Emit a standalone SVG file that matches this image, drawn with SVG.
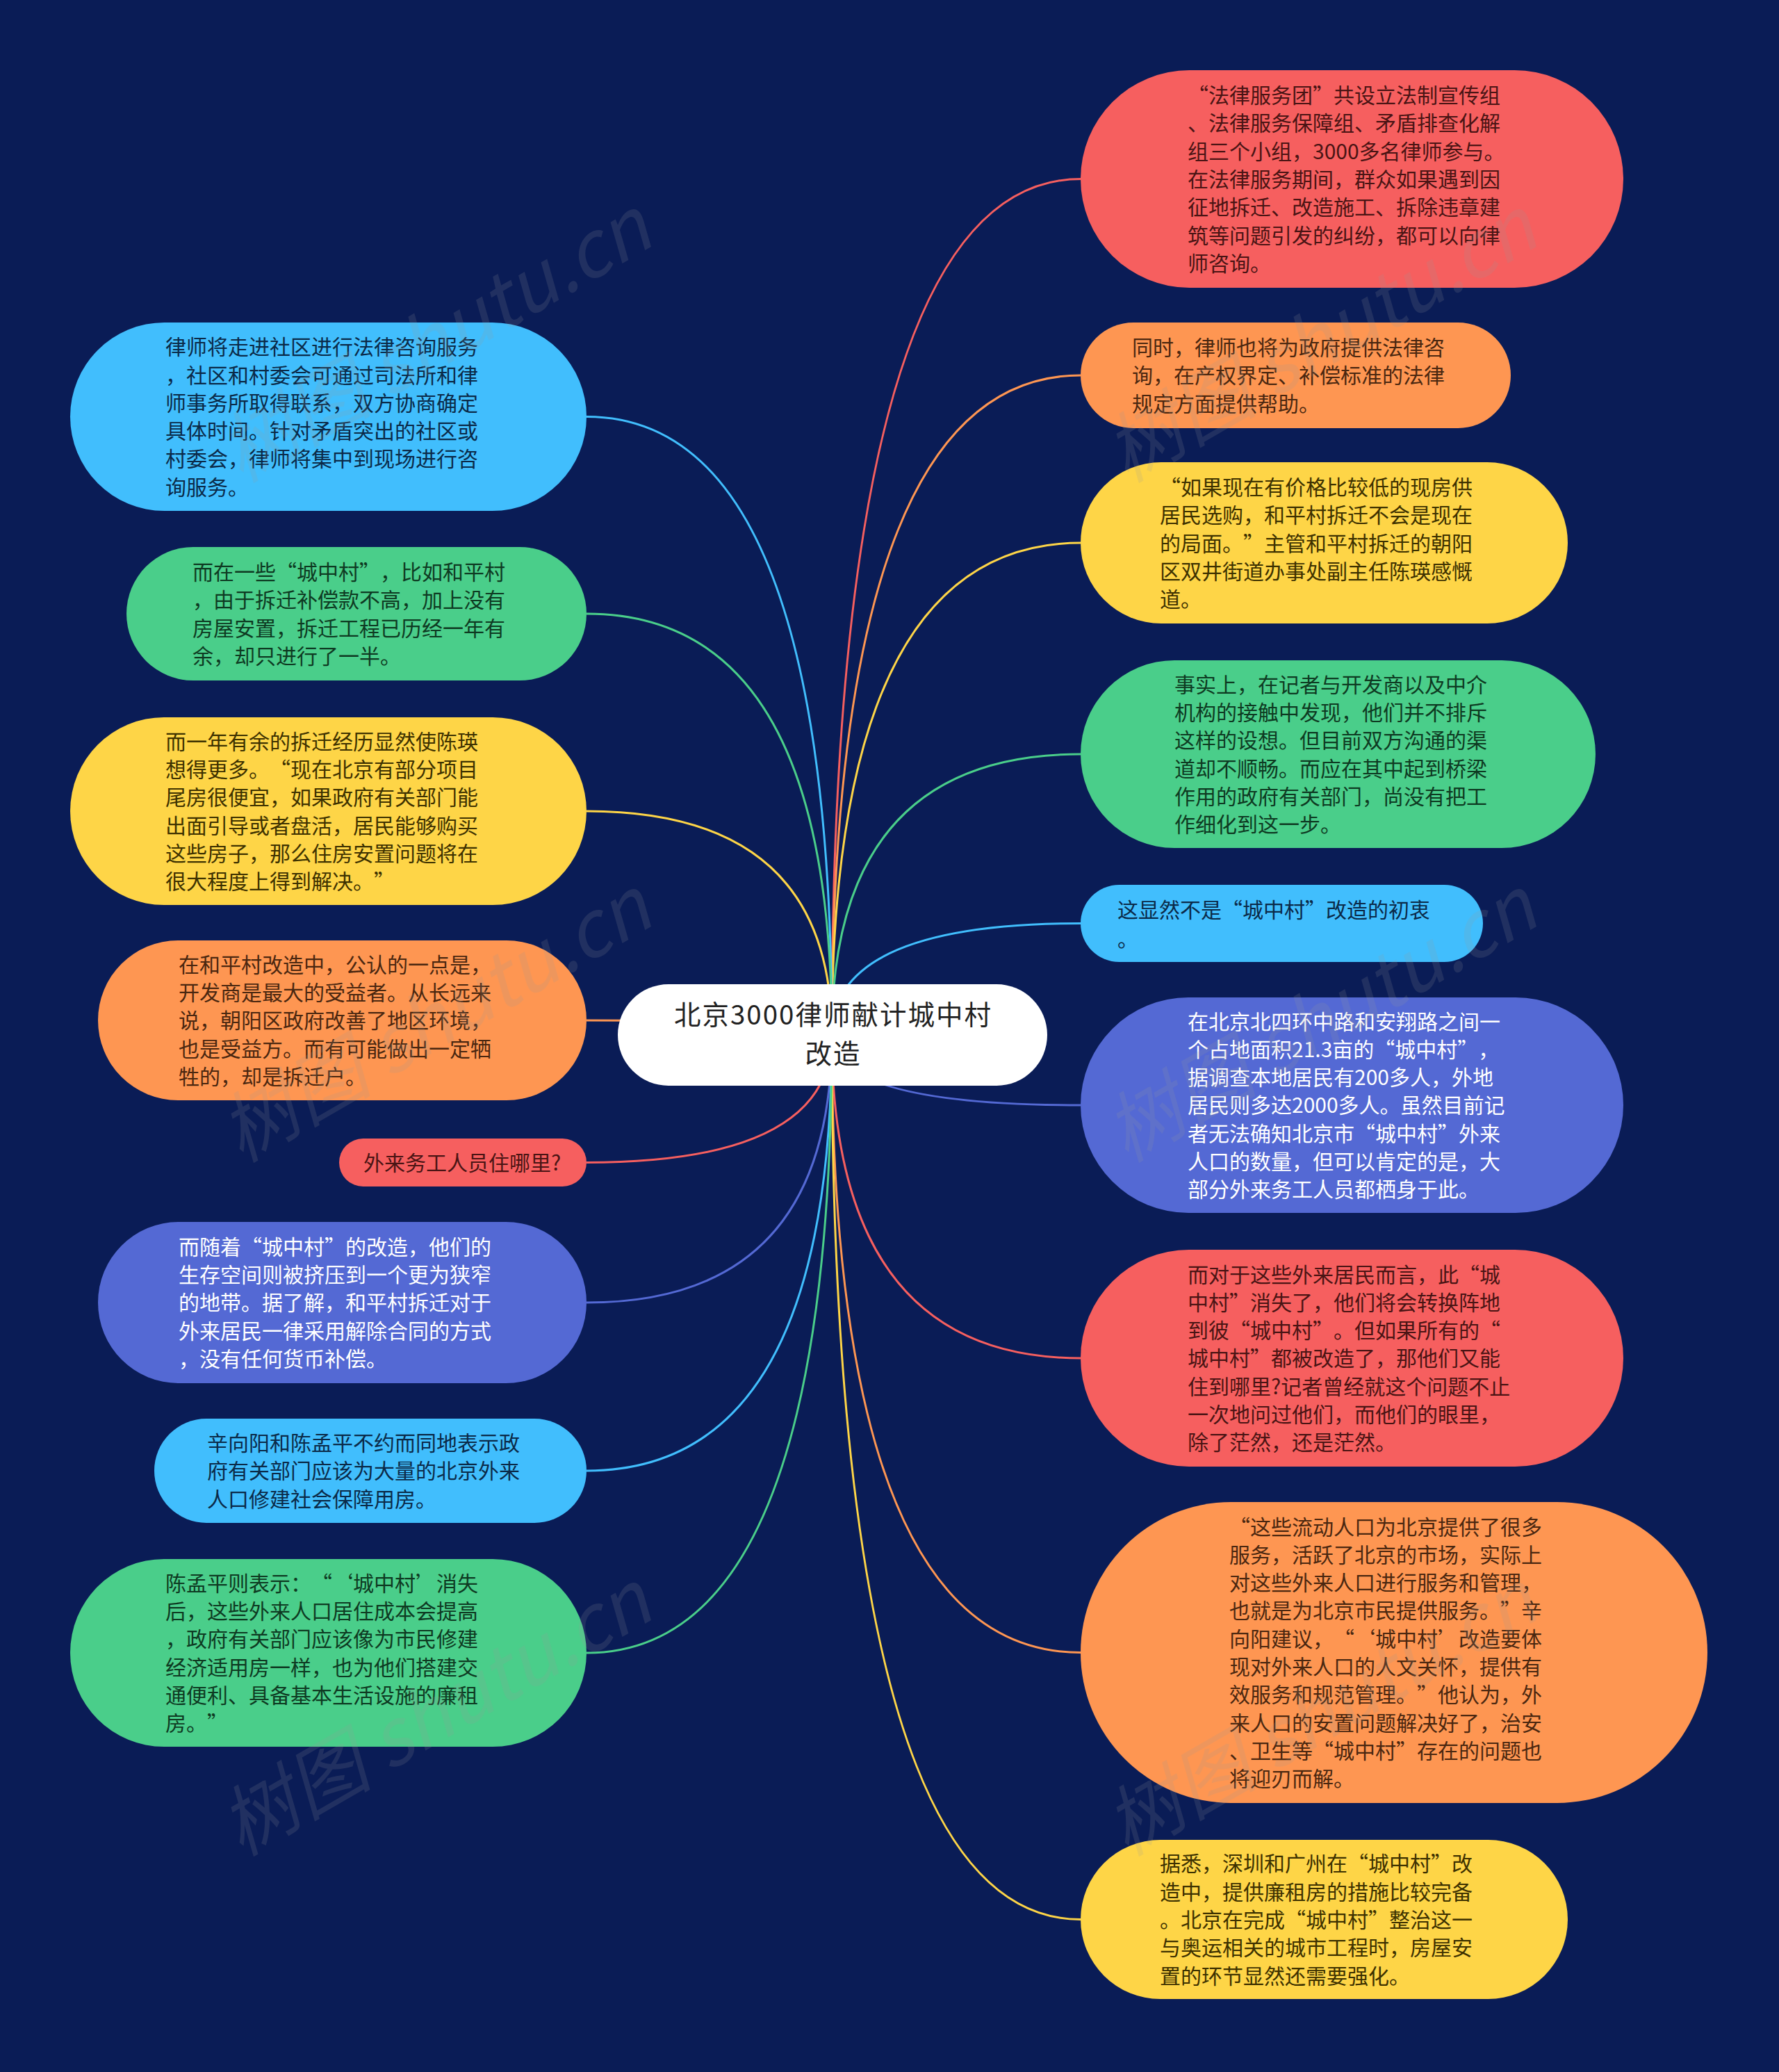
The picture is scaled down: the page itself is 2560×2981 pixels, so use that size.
<svg xmlns="http://www.w3.org/2000/svg" width="2560" height="2981" viewBox="0 0 2560 2981">
<style>
.t{font-family:"Noto Sans CJK SC","Noto Sans",sans-serif;font-size:30px;text-spacing-trim:space-all}
.q{font-feature-settings:"fwid" 1}
.c{font-family:"Noto Sans CJK SC","Noto Sans",sans-serif;font-size:38.5px;letter-spacing:2px;fill:#222;text-anchor:middle}
.red{fill:#F65F5F}.ora{fill:#FE9652}.yel{fill:#FED547}.grn{fill:#4ACE8A}.blu{fill:#41BEFD}.ind{fill:#5469D4}
.tr{fill:#4A1414}.to{fill:#4A2710}.ty{fill:#3D3100}.tg{fill:#0E3A22}.tb{fill:#0B2A48}.tw{fill:#FFFFFF}
#edges path{fill:none;stroke-width:3}
.wm{font-family:"Noto Sans CJK SC","Liberation Serif",serif;font-size:110px;font-style:italic;fill:#9a9a9a;opacity:0.16}
</style>
<rect x="0" y="0" width="2560" height="2981" fill="#0A1C56"/>
<g id="edges">
<path d="M1197 1489 Q1197 257.5 1555 257.5" stroke="#F65F5F"/>
<path d="M1197 1489 Q1197 540 1555 540" stroke="#FE9652"/>
<path d="M1197 1489 Q1197 781 1555 781" stroke="#FED547"/>
<path d="M1197 1489 Q1197 1085 1555 1085" stroke="#4ACE8A"/>
<path d="M1197 1489 Q1197 1328.5 1555 1328.5" stroke="#41BEFD"/>
<path d="M1197 1489 Q1197 1590 1555 1590" stroke="#5469D4"/>
<path d="M1197 1489 Q1197 1954 1555 1954" stroke="#F65F5F"/>
<path d="M1197 1489 Q1197 2377.5 1555 2377.5" stroke="#FE9652"/>
<path d="M1197 1489 Q1197 2761.5 1555 2761.5" stroke="#FED547"/>
<path d="M1197 1489 Q1197 599.5 844 599.5" stroke="#41BEFD"/>
<path d="M1197 1489 Q1197 883 844 883" stroke="#4ACE8A"/>
<path d="M1197 1489 Q1197 1167 844 1167" stroke="#FED547"/>
<path d="M1197 1489 Q1197 1468 844 1468" stroke="#FE9652"/>
<path d="M1197 1489 Q1197 1672.5 844 1672.5" stroke="#F65F5F"/>
<path d="M1197 1489 Q1197 1874 844 1874" stroke="#5469D4"/>
<path d="M1197 1489 Q1197 2116 844 2116" stroke="#41BEFD"/>
<path d="M1197 1489 Q1197 2378 844 2378" stroke="#4ACE8A"/>
</g>
<g id="r1"><rect class="red" x="1555" y="101" width="781" height="313" rx="156.5"/>
<text class="t tr"><tspan x="1709" y="148"><tspan class="q">“</tspan>法律服务团<tspan class="q">”</tspan>共设立法制宣传组</tspan><tspan x="1709" y="188.3">、法律服务保障组、矛盾排查化解</tspan><tspan x="1709" y="228.6">组三个小组，3000多名律师参与。</tspan><tspan x="1709" y="268.9">在法律服务期间，群众如果遇到因</tspan><tspan x="1709" y="309.2">征地拆迁、改造施工、拆除违章建</tspan><tspan x="1709" y="349.5">筑等问题引发的纠纷，都可以向律</tspan><tspan x="1709" y="389.8">师咨询。</tspan></text></g>
<g id="r2"><rect class="ora" x="1555" y="464" width="619" height="152" rx="76"/>
<text class="t to"><tspan x="1629" y="511">同时，律师也将为政府提供法律咨</tspan><tspan x="1629" y="551.3">询，在产权界定、补偿标准的法律</tspan><tspan x="1629" y="591.6">规定方面提供帮助。</tspan></text></g>
<g id="r3"><rect class="yel" x="1555" y="665" width="701" height="232" rx="116"/>
<text class="t ty"><tspan x="1669" y="712"><tspan class="q">“</tspan>如果现在有价格比较低的现房供</tspan><tspan x="1669" y="752.3">居民选购，和平村拆迁不会是现在</tspan><tspan x="1669" y="792.6">的局面。<tspan class="q">”</tspan>主管和平村拆迁的朝阳</tspan><tspan x="1669" y="832.9">区双井街道办事处副主任陈瑛感慨</tspan><tspan x="1669" y="873.2">道。</tspan></text></g>
<g id="r4"><rect class="grn" x="1555" y="950" width="741" height="270" rx="135"/>
<text class="t tg"><tspan x="1690" y="995.6">事实上，在记者与开发商以及中介</tspan><tspan x="1690" y="1035.9">机构的接触中发现，他们并不排斥</tspan><tspan x="1690" y="1076.2">这样的设想。但目前双方沟通的渠</tspan><tspan x="1690" y="1116.5">道却不顺畅。而应在其中起到桥梁</tspan><tspan x="1690" y="1156.8">作用的政府有关部门，尚没有把工</tspan><tspan x="1690" y="1197.1">作细化到这一步。</tspan></text></g>
<g id="r5"><rect class="blu" x="1555" y="1273" width="579" height="111" rx="55.5"/>
<text class="t tb"><tspan x="1608" y="1320">这显然不是<tspan class="q">“</tspan>城中村<tspan class="q">”</tspan>改造的初衷</tspan><tspan x="1608" y="1362">。</tspan></text></g>
<g id="r6"><rect class="ind" x="1555" y="1435" width="781" height="310" rx="155"/>
<text class="t tw"><tspan x="1709" y="1480.5">在北京北四环中路和安翔路之间一</tspan><tspan x="1709" y="1520.8">个占地面积21.3亩的<tspan class="q">“</tspan>城中村<tspan class="q">”</tspan>，</tspan><tspan x="1709" y="1561.1">据调查本地居民有200多人，外地</tspan><tspan x="1709" y="1601.4">居民则多达2000多人。虽然目前记</tspan><tspan x="1709" y="1641.7">者无法确知北京市<tspan class="q">“</tspan>城中村<tspan class="q">”</tspan>外来</tspan><tspan x="1709" y="1682">人口的数量，但可以肯定的是，大</tspan><tspan x="1709" y="1722.3">部分外来务工人员都栖身于此。</tspan></text></g>
<g id="r7"><rect class="red" x="1555" y="1798" width="781" height="312" rx="156"/>
<text class="t tr"><tspan x="1709" y="1844.5">而对于这些外来居民而言，此<tspan class="q">“</tspan>城</tspan><tspan x="1709" y="1884.8">中村<tspan class="q">”</tspan>消失了，他们将会转换阵地</tspan><tspan x="1709" y="1925.1">到彼<tspan class="q">“</tspan>城中村<tspan class="q">”</tspan>。但如果所有的<tspan class="q">“</tspan></tspan><tspan x="1709" y="1965.4">城中村<tspan class="q">”</tspan>都被改造了，那他们又能</tspan><tspan x="1709" y="2005.7">住到哪里?记者曾经就这个问题不止</tspan><tspan x="1709" y="2046">一次地问过他们，而他们的眼里，</tspan><tspan x="1709" y="2086.3">除了茫然，还是茫然。</tspan></text></g>
<g id="r8"><rect class="ora" x="1555" y="2161" width="902" height="433" rx="216.5"/>
<text class="t to"><tspan x="1769" y="2207.5"><tspan class="q">“</tspan>这些流动人口为北京提供了很多</tspan><tspan x="1769" y="2247.8">服务，活跃了北京的市场，实际上</tspan><tspan x="1769" y="2288.1">对这些外来人口进行服务和管理，</tspan><tspan x="1769" y="2328.4">也就是为北京市民提供服务。<tspan class="q">”</tspan>辛</tspan><tspan x="1769" y="2368.7">向阳建议，<tspan class="q">“‘</tspan>城中村<tspan class="q">’</tspan>改造要体</tspan><tspan x="1769" y="2409">现对外来人口的人文关怀，提供有</tspan><tspan x="1769" y="2449.3">效服务和规范管理。<tspan class="q">”</tspan>他认为，外</tspan><tspan x="1769" y="2489.6">来人口的安置问题解决好了，治安</tspan><tspan x="1769" y="2529.9">、卫生等<tspan class="q">“</tspan>城中村<tspan class="q">”</tspan>存在的问题也</tspan><tspan x="1769" y="2570.2">将迎刃而解。</tspan></text></g>
<g id="r9"><rect class="yel" x="1555" y="2647" width="701" height="229" rx="114.5"/>
<text class="t ty"><tspan x="1669" y="2692.3">据悉，深圳和广州在<tspan class="q">“</tspan>城中村<tspan class="q">”</tspan>改</tspan><tspan x="1669" y="2732.6">造中，提供廉租房的措施比较完备</tspan><tspan x="1669" y="2772.9">。北京在完成<tspan class="q">“</tspan>城中村<tspan class="q">”</tspan>整治这一</tspan><tspan x="1669" y="2813.2">与奥运相关的城市工程时，房屋安</tspan><tspan x="1669" y="2853.5">置的环节显然还需要强化。</tspan></text></g>
<g id="l1"><rect class="blu" x="101" y="464" width="743" height="271" rx="135.5"/>
<text class="t tb"><tspan x="238" y="510.2">律师将走进社区进行法律咨询服务</tspan><tspan x="238" y="550.5">，社区和村委会可通过司法所和律</tspan><tspan x="238" y="590.8">师事务所取得联系，双方协商确定</tspan><tspan x="238" y="631.1">具体时间。针对矛盾突出的社区或</tspan><tspan x="238" y="671.4">村委会，律师将集中到现场进行咨</tspan><tspan x="238" y="711.7">询服务。</tspan></text></g>
<g id="l2"><rect class="grn" x="182" y="787" width="662" height="192" rx="96"/>
<text class="t tg"><tspan x="277" y="834">而在一些<tspan class="q">“</tspan>城中村<tspan class="q">”</tspan>，比如和平村</tspan><tspan x="277" y="874.3">，由于拆迁补偿款不高，加上没有</tspan><tspan x="277" y="914.6">房屋安置，拆迁工程已历经一年有</tspan><tspan x="277" y="954.9">余，却只进行了一半。</tspan></text></g>
<g id="l3"><rect class="yel" x="101" y="1032" width="743" height="270" rx="135"/>
<text class="t ty"><tspan x="238" y="1077.7">而一年有余的拆迁经历显然使陈瑛</tspan><tspan x="238" y="1118">想得更多。<tspan class="q">“</tspan>现在北京有部分项目</tspan><tspan x="238" y="1158.3">尾房很便宜，如果政府有关部门能</tspan><tspan x="238" y="1198.6">出面引导或者盘活，居民能够购买</tspan><tspan x="238" y="1238.9">这些房子，那么住房安置问题将在</tspan><tspan x="238" y="1279.2">很大程度上得到解决。<tspan class="q">”</tspan></tspan></text></g>
<g id="l4"><rect class="ora" x="141" y="1353" width="703" height="230" rx="115"/>
<text class="t to"><tspan x="257" y="1398.8">在和平村改造中，公认的一点是，</tspan><tspan x="257" y="1439.1">开发商是最大的受益者。从长远来</tspan><tspan x="257" y="1479.4">说，朝阳区政府改善了地区环境，</tspan><tspan x="257" y="1519.7">也是受益方。而有可能做出一定牺</tspan><tspan x="257" y="1560">牲的，却是拆迁户。</tspan></text></g>
<g id="l5"><rect class="red" x="488" y="1638" width="356" height="69" rx="34.5"/>
<text class="t tr"><tspan x="523" y="1683.9">外来务工人员住哪里?</tspan></text></g>
<g id="l6"><rect class="ind" x="141" y="1758" width="703" height="232" rx="116"/>
<text class="t tw"><tspan x="257" y="1804.8">而随着<tspan class="q">“</tspan>城中村<tspan class="q">”</tspan>的改造，他们的</tspan><tspan x="257" y="1845.1">生存空间则被挤压到一个更为狭窄</tspan><tspan x="257" y="1885.4">的地带。据了解，和平村拆迁对于</tspan><tspan x="257" y="1925.7">外来居民一律采用解除合同的方式</tspan><tspan x="257" y="1966">，没有任何货币补偿。</tspan></text></g>
<g id="l7"><rect class="blu" x="222" y="2041" width="622" height="150" rx="75"/>
<text class="t tb"><tspan x="298" y="2087.1">辛向阳和陈孟平不约而同地表示政</tspan><tspan x="298" y="2127.4">府有关部门应该为大量的北京外来</tspan><tspan x="298" y="2167.7">人口修建社会保障用房。</tspan></text></g>
<g id="l8"><rect class="grn" x="101" y="2243" width="743" height="270" rx="135"/>
<text class="t tg"><tspan x="238" y="2288.7">陈孟平则表示：<tspan class="q">“‘</tspan>城中村<tspan class="q">’</tspan>消失</tspan><tspan x="238" y="2329">后，这些外来人口居住成本会提高</tspan><tspan x="238" y="2369.3">，政府有关部门应该像为市民修建</tspan><tspan x="238" y="2409.6">经济适用房一样，也为他们搭建交</tspan><tspan x="238" y="2449.9">通便利、具备基本生活设施的廉租</tspan><tspan x="238" y="2490.2">房。<tspan class="q">”</tspan></tspan></text></g>
<g id="center"><rect x="889" y="1416" width="618" height="146" rx="73" fill="#FFFFFF"/>
<text class="c"><tspan x="1199" y="1474">北京3000律师献计城中村</tspan><tspan x="1199" y="1530">改造</tspan></text></g>
<g id="watermark">
<text class="wm" transform="translate(646 523) rotate(-30)" text-anchor="middle">树图 shutu.cn</text>
<text class="wm" transform="translate(1920 523) rotate(-30)" text-anchor="middle">树图 shutu.cn</text>
<text class="wm" transform="translate(646 1501) rotate(-30)" text-anchor="middle">树图 shutu.cn</text>
<text class="wm" transform="translate(1920 1501) rotate(-30)" text-anchor="middle">树图 shutu.cn</text>
<text class="wm" transform="translate(646 2499) rotate(-30)" text-anchor="middle">树图 shutu.cn</text>
<text class="wm" transform="translate(1920 2499) rotate(-30)" text-anchor="middle">树图 shutu.cn</text>
</g>
</svg>
